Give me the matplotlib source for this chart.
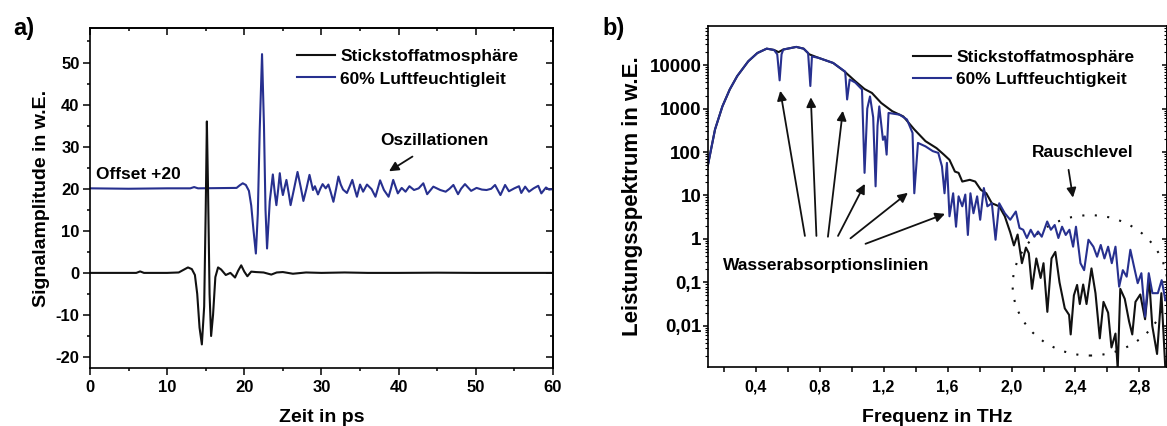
import numpy as np
import matplotlib
matplotlib.use("Agg")
import matplotlib.pyplot as plt
from matplotlib.patches import Ellipse
from matplotlib.ticker import MultipleLocator, LogLocator, NullFormatter

plt.rcParams['font.family'] = ['Liberation Sans', 'DejaVu Sans']
plt.rcParams['font.weight'] = 'bold'
plt.rcParams['axes.linewidth'] = 1.2
plt.rcParams['axes.unicode_minus'] = False

BLUE = '#27308f'
BLACK = '#111111'

# --- panel a: time signals (ps, a.u.) ---
t_n2 = [0, 3, 6.0, 6.5, 7.0, 10, 11.5, 12.2, 12.7, 13.2, 13.6, 13.9, 14.2, 14.5, 14.8,
        15.0, 15.15, 15.3, 15.5, 15.7, 15.95, 16.25, 16.6, 17.0, 17.6, 18.2, 18.8, 19.2,
        19.6, 20.0, 20.4, 20.9, 21.5, 22.5, 23.5, 24.2, 25, 26.3, 28, 30, 33, 36, 40, 45,
        50, 55, 60]
sig_n2 = [0, 0, 0, 0.35, 0, 0, 0.1, 0.8, 1.3, 0.9, -0.5, -5, -13, -17, -8,
          15, 36, 20, -5, -15, -10, -1, 1.3, 0.8, -0.5, 0, -1.1, 0.5,
          1.8, 0.3, -0.8, 0.3, 0.2, 0.1, -0.4, 0.1, 0.2, -0.2, 0.1, 0, 0.1, 0, 0, 0.05,
          0, 0, 0]

t_h2o = [0, 5, 10, 13.0, 13.5, 14.0, 19.0, 19.4, 19.8, 20.2, 20.6, 20.9, 21.2, 21.5,
         21.75, 22.0, 22.3, 22.55, 22.75, 22.95, 23.3, 23.7, 23.95, 24.16, 24.4, 24.6,
         24.8, 25.0, 25.25, 25.46, 25.75, 26.0, 26.45, 26.9, 27.3, 27.66, 28.05, 28.45,
         28.9, 29.15, 29.55, 29.85, 30.15, 30.55, 30.9, 31.2, 31.55, 31.9, 32.2, 32.5,
         32.8, 33.3, 33.65, 34.0, 34.3, 34.6, 35.0, 35.4, 35.9, 36.5, 37.0, 37.3, 37.6,
         38.1, 38.7, 39.0, 39.3, 39.9, 40.4, 40.9, 41.4, 42.0, 42.6, 43.2, 43.7, 44.5,
         45.4, 46.1, 46.6, 47.1, 47.7, 48.1, 48.6, 49.4, 50.1, 50.8, 51.4, 52.0, 52.5,
         53.2, 53.8, 54.3, 55.0, 55.6, 55.9, 56.4, 56.9, 57.5, 58.1, 58.5, 59.1, 59.5, 60]
sig_h2o = [20.1, 20.0, 20.1, 20.1, 20.4, 20.1, 20.2, 20.8, 21.3, 20.9, 19.5, 16, 10, 4.6,
           14, 34, 52, 35, 15, 5.8, 17, 23.4, 19, 16.1, 20, 23.7,
           20.5, 18.5, 20.5, 22.1, 19, 16.1, 20, 24.0, 20.5, 17.1, 20, 23.3,
           19.7, 20.6, 18.65, 20, 21.1, 20.1, 21.0, 19.2, 16.9, 20, 22.9, 21,
           19.8, 19.0, 20.5, 22.1, 20, 18.1, 21.0, 19.3, 21.0, 19.9, 18.1, 20, 22.0,
           19.7, 18.1, 20, 22.1, 18.9, 20.2, 19.3, 20.6, 19.7, 20.1, 21.3, 18.7, 20.5,
           19.7, 19.3, 20, 20.9, 18.7, 20, 21.1, 19.5, 20.2, 19.8, 19.7, 20, 20.9,
           18.5, 20.9, 19.4, 20.1, 20.6, 19.0, 20.5, 19.3, 20.1, 20.7, 18.9, 20.3, 19.8, 19.9]

# --- panel b: power spectra (THz, log10 of a.u.) ---
f_n2 = [0.10, 0.146, 0.192, 0.238, 0.285, 0.354, 0.411, 0.469, 0.515, 0.543,
        0.573, 0.654, 0.700, 0.735, 0.792, 0.885, 0.954, 1.023, 1.081, 1.127,
        1.185, 1.254, 1.323, 1.392, 1.462, 1.531, 1.577, 1.612, 1.646, 1.669,
        1.692, 1.739, 1.773, 1.808, 1.842, 1.877, 1.923, 1.958, 1.992, 2.015,
        2.038, 2.065, 2.09, 2.108, 2.128, 2.155, 2.182, 2.2, 2.224, 2.25,
        2.274, 2.3, 2.333, 2.36, 2.37, 2.39, 2.41, 2.427, 2.448, 2.469,
        2.5, 2.525, 2.552, 2.575, 2.604, 2.625, 2.65, 2.664, 2.68, 2.708,
        2.735, 2.755, 2.775, 2.805, 2.835, 2.86, 2.88, 2.91, 2.937, 2.962]
log_n2 = [1.67, 2.52, 3.05, 3.44, 3.75, 4.09, 4.28, 4.38, 4.35, 4.30,
          4.36, 4.42, 4.38, 4.25, 4.17, 4.05, 3.86, 3.63, 3.45, 3.36,
          3.13, 2.94, 2.82, 2.52, 2.25, 2.09, 1.94, 1.82, 1.55, 1.52,
          1.32, 1.36, 1.32, 1.13, 1.05, 0.82, 0.75, 0.52, 0.15, -0.15,
          0.1, -0.56, -0.2, -0.33, -1.15, -0.45, -0.9, -0.56, -1.68, -0.45,
          -0.3, -1.0, -1.6, -1.75, -2.2, -1.3, -1.06, -1.5, -1.05, -1.5,
          -0.68, -1.25, -2.29, -1.45, -1.7, -2.5, -2.18, -3.0, -1.15, -1.38,
          -1.9, -2.2, -1.45, -1.28, -1.85, -0.9, -2.0, -2.65, -1.25, -3.0]

f_h2o = [0.10, 0.146, 0.192, 0.238, 0.285, 0.354, 0.411, 0.469, 0.515, 0.535,
         0.55, 0.562, 0.573, 0.654, 0.700, 0.728, 0.742, 0.752, 0.792, 0.885,
         0.96, 0.972, 0.988, 1.023, 1.065, 1.081, 1.098, 1.115, 1.135, 1.15,
         1.162, 1.173, 1.196, 1.208, 1.219, 1.231, 1.3, 1.346, 1.381, 1.392,
         1.415, 1.462, 1.508, 1.542, 1.565, 1.581, 1.596, 1.612, 1.635, 1.653,
         1.669, 1.692, 1.711, 1.727, 1.743, 1.762, 1.785, 1.804, 1.827, 1.849,
         1.877, 1.9, 1.923, 1.958, 1.992, 2.027, 2.05, 2.073, 2.096, 2.12,
         2.143, 2.166, 2.189, 2.223, 2.246, 2.27, 2.293, 2.316, 2.339, 2.362,
         2.385, 2.403, 2.431, 2.454, 2.481, 2.512, 2.535, 2.558, 2.581, 2.604,
         2.627, 2.65, 2.673, 2.696, 2.72, 2.743, 2.766, 2.789, 2.812, 2.835,
         2.858, 2.881, 2.915, 2.939, 2.962]
log_h2o = [1.67, 2.52, 3.05, 3.44, 3.75, 4.09, 4.28, 4.38, 4.35, 4.25,
           3.65, 4.25, 4.36, 4.42, 4.38, 4.28, 3.52, 4.2, 4.17, 4.05,
           3.85, 3.21, 3.67, 3.6, 3.44, 1.52, 3.0, 3.28, 2.8, 1.21,
           2.6, 3.05, 2.28, 2.36, 1.94, 2.90, 2.86, 2.75, 2.44, 1.05,
           2.21, 2.13, 2.02, 1.98, 1.67, 1.05, 1.75, 0.52, 1.05, 0.28,
           0.98, 0.75, 1.02, 0.09, 1.05, 0.59, 0.98, 0.44, 1.17, 0.75,
           0.82, -0.02, 0.82, 0.59, 0.44, 0.63, 0.25, 0.21, 0.02, 0.21,
           0.05, 0.17, 0.05, 0.40, 0.21, 0.32, 0.02, 0.28, 0.09, 0.21,
           -0.18, 0.28, -0.56, -0.72, -0.02, -0.18, -0.41, -0.14, -0.45, -0.18,
           -0.56, -0.18, -1.10, -0.72, -0.87, -0.25, -0.64, -1.02, -0.79, -1.79,
           -0.79, -1.25, -1.25, -0.95, -1.41]

# water line arrows: (tail f, tail value) -> (head f, head value)
arrow_tails = [(0.708, 1.17), (0.780, 1.17), (0.852, 1.12), (0.915, 1.17), (0.993, 1.03), (1.087, 0.77)]
arrow_heads = [(0.554, 2570), (0.745, 1820), (0.945, 890), (1.083, 18.5), (1.352, 11.5), (1.584, 3.77)]

labels_a = ['Stickstoffatmosphäre', '60% Luftfeuchtigleit']
labels_b = ['Stickstoffatmosphäre', '60% Luftfeuchtigkeit']

fig = plt.figure(figsize=(11.67, 4.26), dpi=100)

# ---------------- panel a ----------------
ax = fig.add_axes([0.0771, 0.1362, 0.3967, 0.798])
ax.plot(t_h2o, sig_h2o, color=BLUE, lw=1.5, label=labels_a[1])
ax.plot(t_n2, sig_n2, color=BLACK, lw=1.5, label=labels_a[0])
ax.set_xlim(0, 60)
ax.set_ylim(-22.6, 58.2)
ax.xaxis.set_major_locator(MultipleLocator(10))
ax.xaxis.set_minor_locator(MultipleLocator(5))
ax.yaxis.set_major_locator(MultipleLocator(10))
ax.yaxis.set_minor_locator(MultipleLocator(5))
ax.set_yticks(range(-20, 51, 10))
ax.tick_params(which='major', direction='out', length=5, width=1.1, labelsize=12, pad=2.5)
ax.tick_params(which='minor', direction='out', length=2.5, width=1.1)
ax.tick_params(axis='x', which='major', pad=4)
for lab in ax.get_xticklabels() + ax.get_yticklabels():
    lab.set_fontweight('bold')
sy = ax.secondary_yaxis('right')
sy.yaxis.set_major_locator(MultipleLocator(10))
sy.yaxis.set_minor_locator(MultipleLocator(5))
sy.tick_params(which='major', direction='in', length=5, width=1.1, labelright=False)
sy.tick_params(which='minor', direction='in', length=2.5, width=1.1)
sx = ax.secondary_xaxis('top')
sx.xaxis.set_major_locator(MultipleLocator(10))
sx.xaxis.set_minor_locator(MultipleLocator(5))
sx.tick_params(which='major', direction='in', length=5, width=1.1, labeltop=False)
sx.tick_params(which='minor', direction='in', length=2.5, width=1.1)
ax.set_xlabel('Zeit in ps', fontsize=14, fontweight='bold', labelpad=10)
ax.set_ylabel('Signalamplitude in w.E.', fontsize=14, fontweight='bold', labelpad=4)
h, l = ax.get_legend_handles_labels()
ax.legend(h[::-1], l[::-1], loc='upper left', bbox_to_anchor=(0.447, 0.94), frameon=False,
          handlelength=2.2, handletextpad=0.3, labelspacing=0.45,
          borderpad=0, borderaxespad=0, prop={'weight': 'bold', 'size': 12.5})
ax.text(0.78, 23.4, 'Offset +20', fontsize=12.5, fontweight='bold', ha='left', va='center')
ax.text(37.6, 31.4, 'Oszillationen', fontsize=12.5, fontweight='bold', ha='left', va='center')
ax.annotate('', xy=(38.45, 23.8), xytext=(42.1, 28.0),
            arrowprops=dict(arrowstyle='-|>', color=BLACK, lw=1.3, mutation_scale=14))

# ---------------- panel b ----------------
bx = fig.add_axes([0.6064, 0.139, 0.3933, 0.7998])
bx.plot(f_n2, 10.0 ** np.array(log_n2), color=BLACK, lw=1.5, label=labels_b[0])
bx.plot(f_h2o, 10.0 ** np.array(log_h2o), color=BLUE, lw=1.5, label=labels_b[1])
bx.set_yscale('log')
bx.set_xlim(0.1, 2.97)
bx.set_ylim(10 ** -2.945, 10 ** 4.9)
bx.set_xticks([0.4, 0.8, 1.2, 1.6, 2.0, 2.4, 2.8], ['0,4', '0,8', '1,2', '1,6', '2,0', '2,4', '2,8'])
bx.xaxis.set_minor_locator(MultipleLocator(0.2))
bx.set_yticks([0.01, 0.1, 1, 10, 100, 1000, 10000], ['0,01', '0,1', '1', '10', '100', '1000', '10000'])
bx.yaxis.set_minor_locator(LogLocator(base=10, subs=np.arange(2, 10), numticks=20))
bx.yaxis.set_minor_formatter(NullFormatter())
bx.tick_params(which='major', direction='out', length=3.5, width=1.1, pad=1)
bx.tick_params(which='minor', direction='out', length=2, width=0.8)
bx.tick_params(axis='y', which='major', labelsize=13.5)
bx.tick_params(axis='x', which='both', length=3.5, width=1.1, pad=6, labelsize=11.5)
for lab in bx.get_xticklabels() + bx.get_yticklabels():
    lab.set_fontweight('bold')
by = bx.secondary_yaxis('right')
by.set_yticks([0.01, 0.1, 1, 10, 100, 1000, 10000])
by.yaxis.set_minor_locator(LogLocator(base=10, subs=np.arange(2, 10), numticks=20))
by.yaxis.set_minor_formatter(NullFormatter())
by.tick_params(which='major', direction='in', length=3.5, width=1.1, labelright=False)
by.tick_params(which='minor', direction='in', length=2, width=0.8)
bx.set_xlabel('Frequenz in THz', fontsize=14, fontweight='bold', labelpad=10)
bx.set_ylabel('Leistungsspektrum in w.E.', fontsize=16, fontweight='bold', labelpad=5)
bx.legend(loc='upper left', bbox_to_anchor=(0.447, 0.93), frameon=False,
          handlelength=2.2, handletextpad=0.3, labelspacing=0.4,
          borderpad=0, borderaxespad=0, prop={'weight': 'bold', 'size': 12.5})
bx.text(0.1975, 0.239, 'Wasserabsorptionslinien', fontsize=12.5, fontweight='bold',
        ha='left', va='center')
bx.text(2.446, 100, 'Rauschlevel', fontsize=12.5, fontweight='bold', ha='center', va='center')
bx.annotate('', xy=(2.387, 7.7), xytext=(2.354, 45),
            arrowprops=dict(arrowstyle='-|>', color=BLACK, lw=1.3, mutation_scale=14))
for tail, head in zip(arrow_tails, arrow_heads):
    bx.annotate('', xy=head, xytext=tail,
                arrowprops=dict(arrowstyle='-|>', color=BLACK, lw=1.3, mutation_scale=14,
                                shrinkA=0, shrinkB=0))
bx.add_patch(Ellipse((0.833, 0.239), 0.337, 0.412, transform=bx.transAxes, fill=False,
                     ls=(0, (1, 5)), lw=1.5, color=BLACK, clip_on=False))

fig.text(0.011, 0.96, 'a)', fontsize=17, fontweight='bold', ha='left', va='top')
fig.text(0.516, 0.96, 'b)', fontsize=17, fontweight='bold', ha='left', va='top')

fig.savefig('out.png', dpi=100)
